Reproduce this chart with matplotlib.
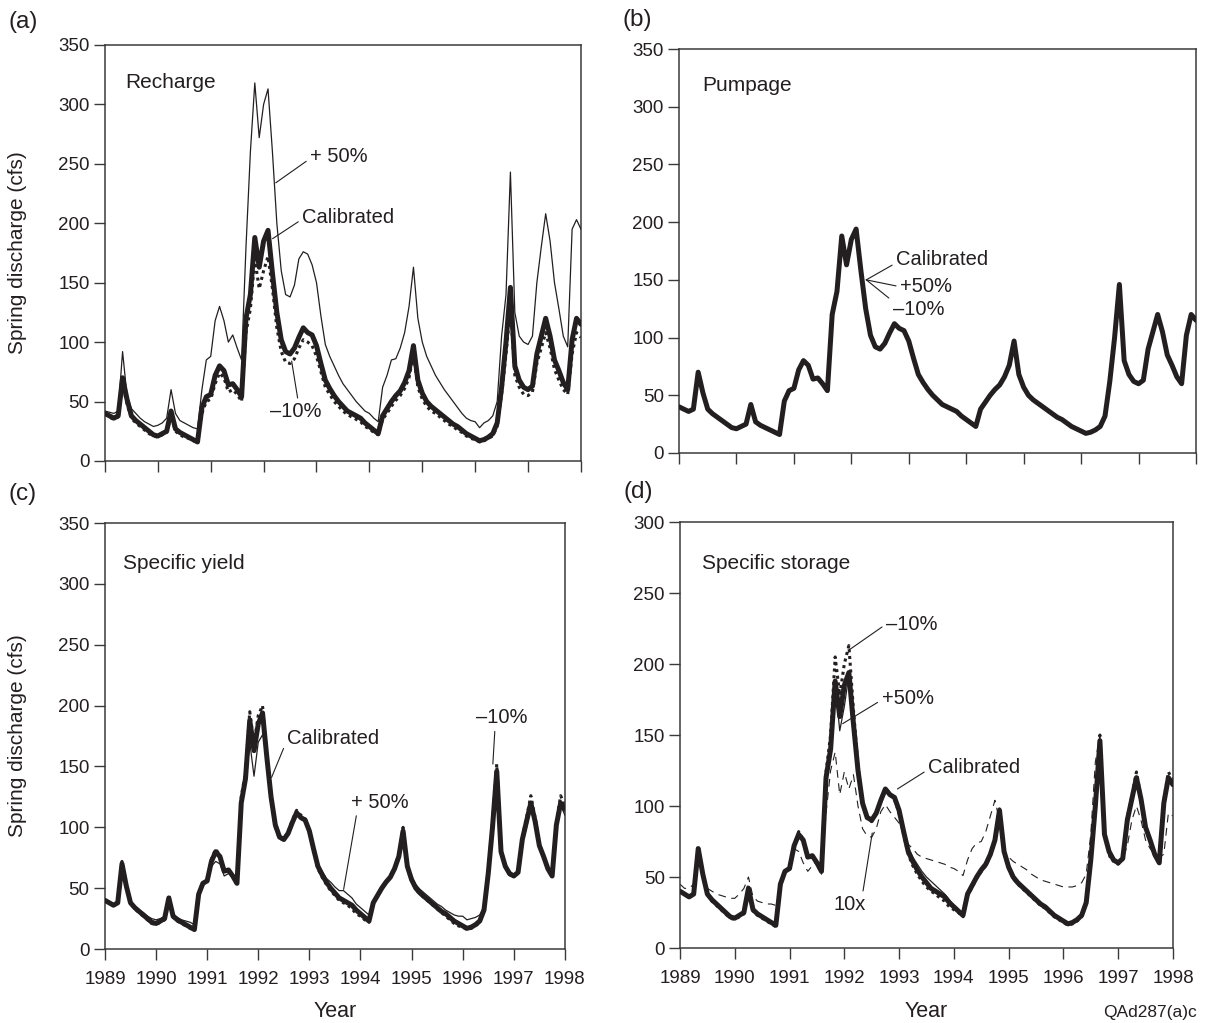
import numpy as np
import matplotlib
matplotlib.use("Agg")
import matplotlib.pyplot as plt

plt.rcParams['font.family'] = ['Liberation Sans', 'DejaVu Sans']

INK = '#231f20'
SPINE = '#3a3a3a'

# monthly model output, Jan 1989 .. Jan 1998
years = 1989 + np.arange(109) / 12.0

calibrated = [40, 38, 36, 38, 70, 52, 38, 34, 31, 28, 25, 22,
              21, 23, 25, 42, 27, 24, 22, 20, 18, 16, 45, 54,
              56, 72, 80, 76, 64, 65, 60, 54, 120, 140, 188, 163,
              185, 194, 158, 125, 102, 92, 90, 95, 104, 112, 108, 106,
              97, 82, 68, 61, 55, 50, 46, 42, 40, 38, 36, 32,
              29, 26, 23, 38, 44, 50, 55, 59, 66, 76, 97, 68,
              57, 50, 46, 43, 40, 37, 34, 31, 29, 26, 23, 21,
              19, 17, 18, 20, 23, 32, 62, 100, 146, 80, 68, 62,
              60, 63, 90, 105, 120, 105, 85, 76, 66, 60, 102, 120, 115]

# (a) recharge
recharge_p50 = [42, 41, 40, 42, 92, 55, 44, 40, 36, 33, 31, 29,
                30, 32, 36, 60, 40, 34, 32, 30, 28, 27, 60, 85,
                88, 118, 130, 118, 100, 106, 95, 85, 180, 260, 318, 272,
                300, 313, 260, 200, 160, 140, 138, 148, 170, 176, 174, 165,
                150, 122, 98, 88, 80, 72, 65, 60, 55, 50, 46, 42,
                40, 36, 33, 62, 72, 85, 86, 95, 108, 130, 163, 120,
                100, 88, 80, 72, 66, 60, 55, 50, 45, 40, 36, 34,
                33, 28, 32, 34, 38, 50, 105, 140, 243, 125, 105, 100,
                98, 105, 150, 180, 208, 185, 150, 128, 105, 96, 195, 203, 195]
recharge_m10 = [40, 37, 35, 37, 65, 48, 36, 32, 29, 26, 23, 21,
                20, 22, 24, 38, 25, 22, 20, 19, 17, 16, 40, 50,
                52, 65, 74, 70, 58, 60, 56, 50, 108, 128, 170, 145,
                160, 172, 145, 112, 92, 83, 82, 86, 95, 102, 100, 97,
                88, 75, 62, 56, 50, 46, 42, 39, 37, 35, 33, 29,
                27, 24, 22, 35, 40, 46, 51, 55, 61, 70, 90, 62,
                52, 46, 42, 40, 37, 34, 31, 29, 26, 24, 21, 19,
                18, 16, 17, 19, 21, 29, 56, 90, 130, 72, 62, 56,
                55, 58, 82, 95, 108, 95, 77, 68, 60, 56, 90, 108, 104]

# (c) specific yield
syield_p50 = [40, 38, 37, 38, 68, 52, 39, 35, 32, 30, 27, 25,
              24, 25, 27, 40, 29, 26, 24, 23, 22, 20, 45, 53,
              56, 68, 72, 70, 60, 62, 60, 56, 118, 135, 170, 142,
              170, 176, 165, 128, 104, 93, 91, 95, 104, 110, 108, 106,
              98, 84, 70, 64, 58, 55, 51, 48, 48, 45, 42, 37,
              34, 31, 28, 40, 46, 52, 56, 60, 66, 75, 95, 70,
              60, 53, 49, 46, 43, 40, 37, 35, 32, 30, 28, 27,
              27, 24, 25, 26, 28, 35, 62, 95, 130, 85, 70, 64,
              61, 64, 86, 100, 115, 103, 86, 77, 68, 63, 98, 118, 110]
syield_m10 = [40, 38, 36, 38, 72, 52, 38, 33, 30, 27, 24, 21,
              20, 22, 24, 44, 26, 23, 21, 19, 17, 15, 44, 54,
              56, 74, 82, 77, 63, 64, 60, 54, 125, 145, 195, 168,
              192, 200, 160, 124, 100, 91, 90, 96, 106, 114, 110, 107,
              97, 81, 66, 59, 53, 48, 44, 40, 38, 36, 33, 29,
              27, 24, 22, 38, 44, 50, 55, 60, 67, 78, 100, 68,
              56, 49, 45, 42, 39, 36, 33, 30, 27, 24, 21, 19,
              18, 16, 17, 19, 22, 32, 64, 105, 152, 82, 68, 61,
              60, 64, 92, 108, 126, 108, 86, 76, 66, 62, 104, 126, 118]

# (d) specific storage
sstor_p50 = [40, 38, 36, 38, 70, 52, 38, 34, 31, 28, 25, 22,
             21, 23, 25, 42, 27, 24, 22, 20, 18, 16, 45, 54,
             56, 72, 80, 76, 64, 65, 60, 54, 120, 140, 186, 153,
             170, 192, 158, 125, 102, 92, 90, 95, 104, 112, 108, 106,
             98, 84, 71, 64, 59, 54, 50, 47, 44, 41, 38, 34,
             30, 27, 24, 38, 44, 50, 55, 59, 66, 76, 97, 68,
             57, 50, 46, 43, 40, 37, 34, 31, 29, 26, 23, 21,
             19, 17, 18, 20, 23, 32, 62, 100, 146, 80, 68, 62,
             60, 63, 90, 105, 120, 105, 85, 76, 66, 60, 102, 120, 115]
sstor_m10 = [40, 38, 36, 38, 72, 52, 38, 33, 30, 27, 24, 21,
             20, 22, 24, 44, 26, 23, 21, 19, 17, 15, 44, 54,
             56, 72, 82, 76, 63, 64, 59, 53, 124, 150, 205, 178,
             200, 213, 168, 128, 102, 91, 89, 95, 105, 113, 108, 105,
             95, 80, 66, 58, 52, 47, 43, 40, 38, 35, 33, 29,
             27, 25, 22, 37, 43, 49, 54, 58, 65, 76, 98, 67,
             56, 49, 45, 42, 39, 36, 33, 30, 28, 25, 22, 20,
             18, 16, 17, 19, 22, 31, 62, 102, 150, 80, 67, 61,
             59, 63, 92, 107, 124, 106, 85, 75, 65, 60, 104, 124, 118]
sstor_10x = [45, 42, 42, 45, 70, 50, 42, 40, 38, 37, 36, 35,
             35, 38, 42, 50, 36, 33, 32, 31, 31, 30, 40, 55,
             58, 70, 68, 60, 54, 58, 62, 52, 95, 125, 138, 108,
             124, 112, 122, 100, 84, 79, 78, 84, 96, 101, 96, 92,
             88, 82, 73, 70, 66, 64, 63, 62, 61, 60, 59, 57,
             56, 54, 51, 62, 70, 74, 75, 82, 93, 104, 90, 68,
             64, 61, 59, 57, 55, 52, 50, 48, 47, 46, 45, 44,
             43, 43, 43, 44, 46, 52, 80, 131, 150, 80, 64, 61,
             60, 63, 72, 90, 100, 90, 76, 70, 66, 64, 66, 95, 93]

year_ticks = list(range(1989, 1999))

fig = plt.figure(figsize=(12.05, 10.23), dpi=100)

ax_a = fig.add_axes([0.0871, 0.5494, 0.3950, 0.4067])
ax_b = fig.add_axes([0.5635, 0.5572, 0.4290, 0.3949])
ax_c = fig.add_axes([0.0871, 0.0723, 0.3817, 0.4164])
ax_d = fig.add_axes([0.5643, 0.0733, 0.4091, 0.4164])

thick = dict(color=INK, lw=3.6, solid_joinstyle='round', solid_capstyle='round', zorder=3)
thin = dict(color=INK, lw=0.9, zorder=4)
dotted = dict(color=INK, lw=2.2, linestyle=(0, (1, 1.2)), zorder=2)
dashed = dict(color=INK, lw=0.8, linestyle=(0, (7, 5)), zorder=2)

ax_a.plot(years, recharge_m10, **dotted)
ax_a.plot(years, calibrated, **thick)
ax_a.plot(years, recharge_p50, **thin)

ax_b.plot(years, calibrated, **thick)

ax_c.plot(years, syield_m10, **dotted)
ax_c.plot(years, calibrated, **thick)
ax_c.plot(years, syield_p50, **thin)

ax_d.plot(years, sstor_10x, **dashed)
ax_d.plot(years, sstor_m10, **dotted)
ax_d.plot(years, calibrated, **thick)
ax_d.plot(years, sstor_p50, color=INK, lw=0.9, zorder=2)

for ax, top in [(ax_a, 350), (ax_b, 350), (ax_c, 350), (ax_d, 300)]:
    ax.set_xlim(1989, 1998)
    ax.set_ylim(0, top)
    ax.set_yticks(range(0, top + 1, 50))
    ax.set_xticks(year_ticks)
    ax.tick_params(direction='out', length=8, width=1.0, color=SPINE,
                   labelsize=13.5, labelcolor=INK)
    ax.tick_params(axis='y', pad=3)
    ax.tick_params(axis='x', pad=8)
    for sp in ax.spines.values():
        sp.set_color(SPINE)
        sp.set_linewidth(1.1)

for ax in (ax_a, ax_b):
    ax.set_xticklabels([])

for ax, ypos in [(ax_c, -0.160), (ax_d, -0.162)]:
    ax.set_xticklabels([str(y) for y in year_ticks])
    ax.set_xlabel('Year', fontsize=15.5, color=INK)
    ax.xaxis.label.set_va('baseline')
    ax.xaxis.set_label_coords(0.5, ypos)

for ax, xpos in [(ax_a, -0.164), (ax_c, -0.170)]:
    ax.set_ylabel('Spring discharge (cfs)', fontsize=15, color=INK)
    ax.yaxis.set_label_coords(xpos, 0.5)

# panel headings
ax_a.text(1989.375, 318, 'Recharge', fontsize=15, color=INK, va='center')
ax_b.text(1989.40, 318, 'Pumpage', fontsize=15, color=INK, va='center')
ax_c.text(1989.36, 317, 'Specific yield', fontsize=15, color=INK, va='center')
ax_d.text(1989.41, 271, 'Specific storage', fontsize=15, color=INK, va='center')

fig.text(8 / 1205, 1 - 22 / 1023, '(a)', fontsize=17.5, color=INK, va='center')
fig.text(622 / 1205, 1 - 20 / 1023, '(b)', fontsize=17.5, color=INK, va='center')
fig.text(9 / 1205, 1 - 494 / 1023, '(c)', fontsize=17.5, color=INK, va='center')
fig.text(623 / 1205, 1 - 492 / 1023, '(d)', fontsize=17.5, color=INK, va='center')
fig.text(1197 / 1205, 1 - 1012 / 1023, 'QAd287(a)c', fontsize=12.5, color=INK,
         ha='right', va='center')


def leader(ax, label, xy, xytext, relpos):
    ax.annotate(label, xy=xy, xytext=xytext, fontsize=14.5, color=INK,
                ha='left', va='center', zorder=6,
                arrowprops=dict(arrowstyle='-', color=INK, lw=0.8,
                                shrinkA=1, shrinkB=0, relpos=relpos))


leader(ax_a, '+ 50%', (1992.23, 234), (1992.88, 256), (0.0, 0.4))
leader(ax_a, 'Calibrated', (1992.17, 187), (1992.73, 205), (0.0, 0.4))
leader(ax_a, '\u201310%', (1992.53, 84), (1992.12, 41.5), (0.55, 1.0))

leader(ax_b, 'Calibrated', (1992.26, 150), (1992.78, 168), (0.0, 0.3))
leader(ax_b, '+50%', (1992.26, 150), (1992.85, 144), (0.0, 0.5))
leader(ax_b, '\u201310%', (1992.26, 150), (1992.72, 124), (0.05, 0.85))

leader(ax_c, 'Calibrated', (1992.26, 141), (1992.56, 173), (0.0, 0.4))
leader(ax_c, '+ 50%', (1993.67, 49), (1993.82, 120.7), (0.1, 0.0))
leader(ax_c, '\u201310%', (1996.59, 152), (1996.26, 190), (0.37, 0.0))

leader(ax_d, '\u201310%', (1992.09, 210), (1992.76, 228), (0.0, 0.5))
leader(ax_d, '+50%', (1991.97, 158), (1992.68, 176), (0.0, 0.4))
leader(ax_d, 'Calibrated', (1992.97, 112), (1993.53, 127), (0.0, 0.4))
leader(ax_d, '10x', (1992.51, 81), (1991.81, 30.6), (0.88, 1.0))

fig.savefig('out.png', dpi=100)
